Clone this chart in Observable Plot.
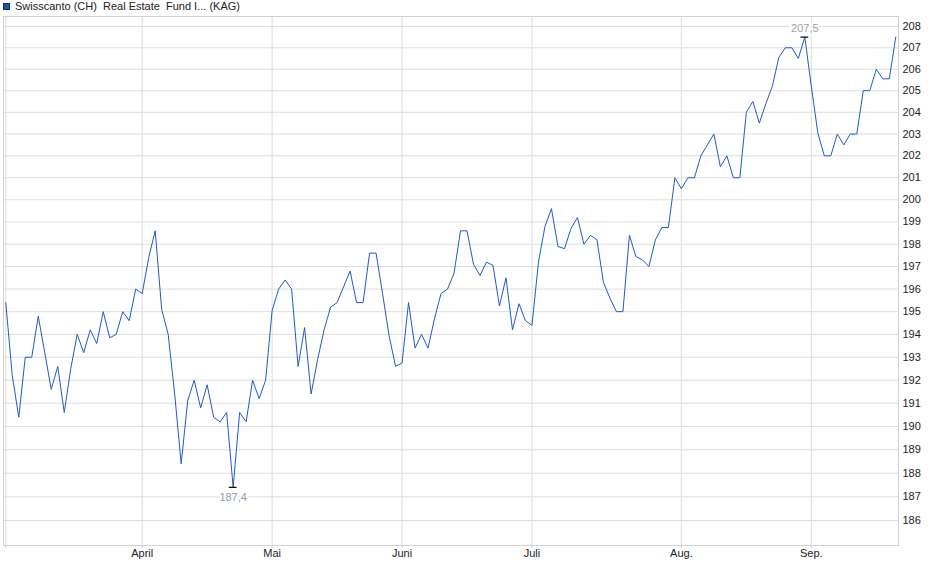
<!DOCTYPE html>
<html>
<head>
<meta charset="utf-8">
<script src="https://cdn.jsdelivr.net/npm/d3@7"></script>
<script src="https://cdn.jsdelivr.net/npm/@observablehq/plot@0.6"></script>
<style>
  html, body { margin: 0; padding: 0; background: #fff; }
  #legend { height: 14px; font: 11px "Liberation Sans", Arial, sans-serif; line-height: 14px; color: #222; white-space: pre; position: relative; }
  #legend .sw { position: absolute; left: 3px; top: 3px; width: 5px; height: 5px; background: #1c52b4; border: 1px solid #0e2d70; }
  #legend .tx { position: absolute; left: 15px; top: -1px; }
</style>
</head>
<body>
<div id="legend"><span class="sw"></span><span class="tx"></span></div>
<div id="chart"></div>
<script>
const seriesName = "Swisscanto (CH)  Real Estate  Fund I... (KAG)";

// daily prices (trading days)
const values = [
  195.4, 192.2, 190.4, 193.0, 193.0, 194.8, 193.2, 191.6, 192.6, 190.6,
  192.5, 194.0, 193.2, 194.2, 193.6, 195.0, 193.85, 194.0, 195.0, 194.6,
  196.0, 195.8, 197.4, 198.6, 195.1, 194.0, 191.4, 188.4, 191.1, 192.0,
  190.8, 191.8, 190.4, 190.2, 190.6, 187.4, 190.6, 190.2, 192.0, 191.2,
  192.0, 195.05, 196.0, 196.4, 196.0, 192.6, 194.3, 191.4, 192.9, 194.2,
  195.2, 195.4, 196.1, 196.8, 195.4, 195.4, 197.6, 197.6, 195.8, 193.95,
  192.6, 192.75, 195.4, 193.4, 194.0, 193.4, 194.7, 195.8, 196.0, 196.7,
  198.6, 198.6, 197.1, 196.6, 197.2, 197.05, 195.25, 196.5, 194.2, 195.35,
  194.6, 194.4, 197.2, 198.8, 199.6, 197.9, 197.8, 198.7, 199.2, 198.0,
  198.4, 198.2, 196.3, 195.6, 195.0, 195.0, 198.4, 197.45, 197.3, 197.0,
  198.2, 198.75, 198.75, 201.0, 200.5, 201.0, 201.0, 202.0, 202.5, 203.0,
  201.5, 202.0, 201.0, 201.0, 204.0, 204.5, 203.5, 204.4, 205.2, 206.55,
  207.0, 207.0, 206.5, 207.5, 205.2, 203.05, 202.0, 202.0, 203.0, 202.5,
  203.0, 203.0, 205.0, 205.0, 206.0, 205.55, 205.55, 207.5
];

// month ticks (index of the trading day where each month starts)
const monthLabels = ["April", "Mai", "Juni", "Juli", "Aug.", "Sep."];
const monthIndex  = [21, 41, 61, 81, 104, 124];

// y-axis tick labels
const yTicks = [186, 187, 188, 189, 190, 191, 192, 193, 194, 195, 196, 197,
                198, 199, 200, 201, 202, 203, 204, 205, 206, 207, 208];

document.querySelector("#legend .tx").textContent = seriesName;

const data = values.map((v, i) => ({i, v}));
const minI = d3.minIndex(values);
const maxI = d3.maxIndex(values);
const fmt = v => v.toFixed(1).replace(".", ",");

const chart = Plot.plot({
  width: 940,
  height: 565,
  marginLeft: 3,
  marginRight: 42,
  marginTop: 2,
  marginBottom: 34,
  style: {fontFamily: "'Liberation Sans', Arial, sans-serif", fontSize: "11px", background: "#fff", color: "#222", overflow: "visible"},
  x: {type: "linear", domain: [-0.35, 137.42]},
  y: {type: "log", domain: [184.95, 208.47]},
  marks: [
    Plot.gridY(yTicks, {stroke: "#dddddd", strokeOpacity: 1}),
    Plot.gridX([0, ...monthIndex], {stroke: "#dddddd", strokeOpacity: 1}),
    Plot.frame({stroke: "#d2d2d2"}),
    Plot.axisY(yTicks, {anchor: "right", tickSize: 0, tickPadding: 4, label: null, tickFormat: d => String(d), fill: "#222"}),
    Plot.axisX(monthIndex, {anchor: "bottom", tickSize: 3, tickPadding: 1, label: null,
      tickFormat: d => monthLabels[monthIndex.indexOf(d)], stroke: "#cccccc", fill: "#222"}),
    Plot.axisX([0], {anchor: "bottom", tickSize: 3, label: null, tickFormat: () => "", stroke: "#cccccc"}),
    Plot.line(data, {x: "i", y: "v", stroke: "#1f5bc6", strokeWidth: 1}),
    Plot.ruleY(data.filter(d => d.i === minI || d.i === maxI), {
      y: "v", x1: d => d.i - 0.6, x2: d => d.i + 0.6, stroke: "#000", strokeWidth: 1.2
    }),
    Plot.text([data[minI]], {x: "i", y: "v", text: d => fmt(d.v), dy: 10, fill: "#8a9ab8", stroke: "#fff", strokeWidth: 4, fontSize: 11}),
    Plot.text([data[maxI]], {x: "i", y: "v", text: d => fmt(d.v), dy: -9, fill: "#a89c9c", stroke: "#fff", strokeWidth: 4, fontSize: 11})
  ]
});
document.getElementById("chart").appendChild(chart);
</script>
</body>
</html>
